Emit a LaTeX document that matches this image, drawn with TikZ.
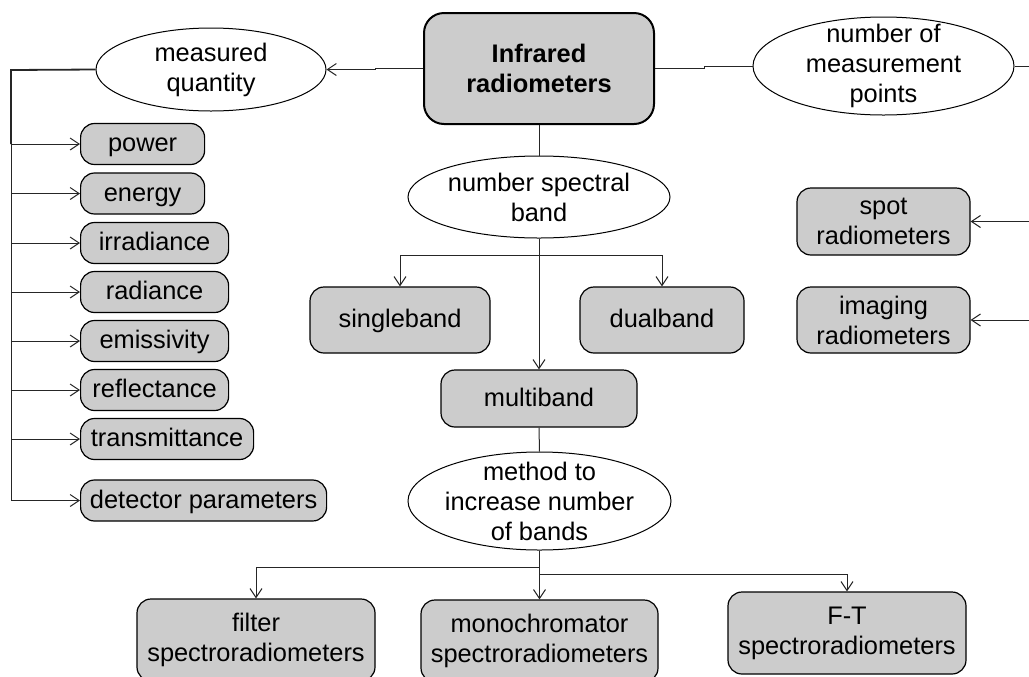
\documentclass[tikz,border=0pt]{standalone}
\usepackage{fontspec}
\setmainfont{Liberation Sans}
\usetikzlibrary{shapes.geometric,arrows.meta}
\definecolor{boxgray}{RGB}{204,204,204}
\tikzset{
  txt/.style={font=\fontsize{12.7}{15}\selectfont, align=center},
  rbox/.style={txt, draw=black, line width=0.6pt, fill=boxgray, rounded corners=7pt, inner sep=0pt},
  oneline/.style={text height=10pt, text depth=2.2pt},
  oval/.style={draw=black, line width=0.5pt, fill=white, ellipse, inner sep=0pt},
  link/.style={draw=black!85, line width=0.5pt},
}
\begin{document}
\begin{tikzpicture}[x=0.5pt,y=-0.5pt,>={Straight Barb[length=4.5pt,width=6pt]}]
    \clip (0,0) rectangle (1029,676);
    % top row
    \node[rbox, line width=1pt, rounded corners=10pt, minimum width=115pt, minimum height=55.5pt,
      font=\fontsize{12.7}{15}\selectfont\bfseries] (main) at (539,68.5) {Infrared\\radiometers};
    \node[oval, minimum width=115pt, minimum height=41.5pt,
      label={[txt]center:{measured\\quantity}}] (mq) at (211,69.5) {};
    \node[oval, minimum width=130.5pt, minimum height=49pt,
      label={[txt]center:{number of\\measurement\\points}}] (nmp) at (883.5,66) {};
    \draw[link,->] (main.west) -- ++(-48,0) |- (mq.east);
    \draw[link] (main.east) -- ++(49,0) |- (nmp.west);
    % measured quantities
    \coordinate (bus) at (11,70);
    \foreach \y/\w/\word/\nm in {144/124/power/pw, 193.5/124/energy/en, 243/148/irradiance/irr,
      292/148/radiance/rad, 341/148/emissivity/emi, 390/148/reflectance/ref,
      439/173/transmittance/tra, 500.5/246/detector parameters/det}
    {
    \node[rbox, oneline, anchor=west, minimum width=\w*0.5pt, minimum height=20.5pt] (\nm) at (80,\y) {\word};
    \draw[link,->] (bus |- \nm.west) -- (\nm.west);
    }
    \draw[link, line width=0.9pt] (mq.west) -- (bus) -- (bus |- pw.west);
    \draw[link] (bus |- pw.west) -- (bus |- det.west);
    % measurement points
    \node[rbox, minimum width=86.5pt, minimum height=33.5pt] (spot) at (883.5,221.5) {spot\\radiometers};
    \node[rbox, minimum width=86.5pt, minimum height=33pt] (img) at (883.5,320) {imaging\\radiometers};
    \coordinate (rbus) at (1045,66);
    \draw[link] (nmp.east) -- (rbus);
    \draw[link,->] (rbus) |- (spot.east);
    \draw[link,->] (rbus) |- (img.east);
    % spectral bands
    \node[oval, minimum width=131pt, minimum height=41pt,
      label={[txt]center:{number spectral\\band}}] (nsb) at (539,197) {};
    \draw[link] (main.south) -- (nsb.north);
    \node[rbox, oneline, minimum width=90pt, minimum height=33pt] (single) at (400,320) {singleband};
    \node[rbox, oneline, minimum width=82pt, minimum height=33pt] (dual) at (662,320) {dualband};
    \node[rbox, oneline, minimum width=98pt, minimum height=28.5pt] (multi) at (539,398.5) {multiband};
    \draw[link,->] (nsb.south) -- ++(0,17) -| (single.north);
    \draw[link,->] (nsb.south) -- ++(0,17) -| (dual.north);
    \draw[link,->] (nsb.south) -- (multi.north);
    % methods
    \node[oval, minimum width=131.5pt, minimum height=49pt,
      label={[txt]center:{method to\\increase number\\of bands}}] (mth) at (539.5,501) {};
    \draw[link] (multi.south) -- (mth.north);
    \node[rbox, minimum width=119pt, minimum height=41pt] (filt) at (256,640) {filter\\spectroradiometers};
    \node[rbox, minimum width=118.5pt, minimum height=41pt] (mono) at (539.5,641) {monochromator\\spectroradiometers};
    \node[rbox, minimum width=119pt, minimum height=41pt] (ft) at (847,633) {F-T\\spectroradiometers};
    \draw[link,->] (mth.south) -- ++(0,17) -| (filt.north);
    \draw[link,->] (mth.south) -- ++(0,24) -| (ft.north);
    \draw[link,->] (mth.south) -- (mono.north);
\end{tikzpicture}
\end{document}
